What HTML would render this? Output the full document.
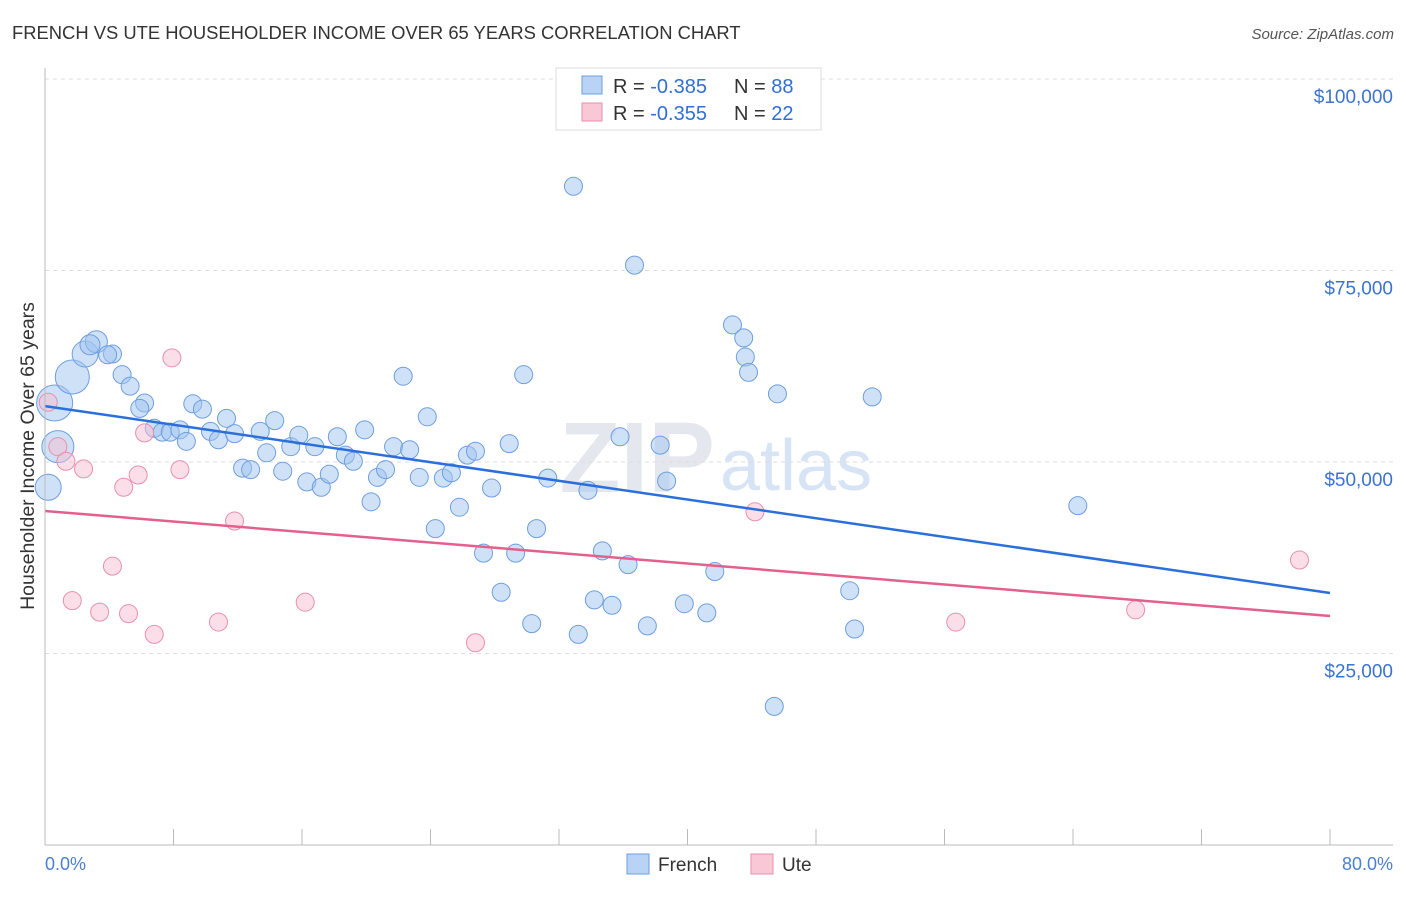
<!DOCTYPE html>
<html><head><meta charset="utf-8"><style>
body{margin:0;background:#fff;font-family:"Liberation Sans",sans-serif;}
svg text{font-family:"Liberation Sans",sans-serif;}
</style></head><body>
<svg id="chart" width="1406" height="892">
<text x="12" y="39" font-size="18.4" fill="#333">FRENCH VS UTE HOUSEHOLDER INCOME OVER 65 YEARS CORRELATION CHART</text>
<text x="1394" y="39" font-size="15" fill="#555" font-style="italic" text-anchor="end">Source: ZipAtlas.com</text>
<text x="715" y="492" font-size="100" fill="#e4e8ee" font-family="Liberation Serif" font-weight="bold" text-anchor="end">ZIP</text>
<text x="720" y="490" font-size="72" fill="#d6e4f5">atlas</text>
<g id="grid"></g><g id="marks"></g><g id="axes"></g>
<text transform="translate(34,456) rotate(-90)" font-size="19.5" fill="#333" text-anchor="middle">Householder Income Over 65 years</text>
<text x="45" y="870" font-size="18" fill="#4a7fd4">0.0%</text>
<text x="1393" y="870" font-size="18" fill="#4a7fd4" text-anchor="end">80.0%</text>
<g>
<rect x="556" y="68" width="265" height="62" fill="#fff" stroke="#ddd"/>
<rect x="582" y="76" width="20" height="18" fill="#b8d3f5" stroke="#6e9fe0"/>
<rect x="582" y="103" width="20" height="18" fill="#f9c8d7" stroke="#e890ad"/>
<text x="613" y="93" font-size="20" fill="#333">R = <tspan fill="#2f6fd6">-0.385</tspan><tspan x="734">N = </tspan><tspan fill="#2f6fd6">88</tspan></text>
<text x="613" y="120" font-size="20" fill="#333">R = <tspan fill="#2f6fd6">-0.355</tspan><tspan x="734">N = </tspan><tspan fill="#2f6fd6">22</tspan></text>
</g>
<g>
<rect x="627" y="854" width="22" height="20" fill="#b8d3f5" stroke="#6e9fe0"/>
<text x="658" y="871" font-size="19" fill="#333">French</text>
<rect x="751" y="854" width="22" height="20" fill="#f9c8d7" stroke="#e890ad"/>
<text x="782" y="871" font-size="19" fill="#333">Ute</text>
</g>
</svg>
<script>
const yTicks=[25000,50000,75000,100000];
const yTickLabels=["$25,000","$50,000","$75,000","$100,000"];
const frenchX=[0.2,0.8,0.6,1.7,2.5,3.2,2.8,4.2,3.9,4.8,5.3,6.2,5.9,6.8,7.3,7.8,8.4,8.8,9.2,9.8,10.3,10.8,11.3,11.8,12.3,12.8,13.4,13.8,14.3,14.8,15.3,15.8,16.3,16.8,17.2,17.7,18.2,18.7,19.2,19.9,20.3,20.7,21.2,21.7,22.3,22.7,23.3,23.8,24.3,24.8,25.3,25.8,26.3,26.8,27.3,27.8,28.4,28.9,29.3,29.8,30.3,30.6,31.3,32.9,33.2,33.8,34.2,34.7,35.3,35.8,36.3,36.7,37.5,38.3,38.7,39.8,41.2,41.7,42.8,43.5,43.6,43.8,45.4,45.6,50.1,50.4,51.5,64.3];
const frenchY=[46.7,52.0,57.7,61.1,64.1,65.7,65.3,64.1,64.0,61.4,59.9,57.7,57.0,54.4,53.9,53.9,54.2,52.7,57.6,56.9,54.0,52.9,55.7,53.7,49.2,49.0,54.0,51.2,55.4,48.8,52.0,53.5,47.4,52.0,46.7,48.4,53.3,50.9,50.1,54.2,44.8,48.0,49.0,52.0,61.2,51.6,48.0,55.9,41.3,47.9,48.6,44.1,50.9,51.4,38.1,46.6,33.0,52.4,38.1,61.4,28.9,41.3,47.9,86.0,27.5,46.3,32.0,38.4,31.3,53.3,36.6,75.7,28.6,52.2,47.5,31.5,30.3,35.7,67.9,66.2,63.7,61.7,18.1,58.9,33.2,28.2,58.5,44.3];
const frenchSize=[13,16,18,17,13,11,10,9,9,9,9,9,9,9,9,9,9,9,9,9,9,9,9,9,9,9,9,9,9,9,9,9,9,9,9,9,9,9,9,9,9,9,9,9,9,9,9,9,9,9,9,9,9,9,9,9,9,9,9,9,9,9,9,9,9,9,9,9,9,9,9,9,9,9,9,9,9,9,9,9,9,9,9,9,9,9,9,9];
const uteX=[0.2,0.8,1.3,1.7,2.4,3.4,4.2,4.9,5.2,5.8,6.2,6.8,7.9,8.4,10.8,11.8,16.2,26.8,44.2,56.7,67.9,78.1];
const uteY=[57.8,52.0,50.1,31.9,49.1,30.4,36.4,46.7,30.2,48.3,53.8,27.5,63.6,49.0,29.1,42.3,31.7,26.4,43.5,29.1,30.7,37.2];
const trendX=[0,80];
const frenchTrend=[57.3,32.9];
const uteTrend=[43.6,29.9];
const NS="http://www.w3.org/2000/svg";
const xs=v=>45+v/80*1285;
const ys=v=>845-v/100000*766;
const ysk=v=>ys(v*1000);
function mk(tag,attrs,parent){const e=document.createElementNS(NS,tag);for(const k in attrs)e.setAttribute(k,attrs[k]);parent.appendChild(e);return e;}
const grid=document.getElementById('grid'),marks=document.getElementById('marks'),axes=document.getElementById('axes');
yTicks.forEach((t,i)=>{
 const l=mk('line',{x1:45,x2:1393,y1:ys(t),y2:ys(t),stroke:'#ddd','stroke-dasharray':'4,4'},grid);
 
 
 const tx=mk('text',{x:1393,y:ys(t)+24,'font-size':19,fill:'#3b73cf','text-anchor':'end'},axes);
 tx.textContent=yTickLabels[i];
 
 
});
const ax=mk('line',{x1:45,x2:45,y1:68,y2:845,stroke:'#bbb'},axes);


const bx=mk('line',{x1:45,x2:1393,y1:845,y2:845,stroke:'#bbb'},axes);


for(let i=0;i<=10;i++){const t=mk('line',{x1:xs(i*8),x2:xs(i*8),y1:829,y2:845,stroke:'#bbb'},axes);
 
 }
frenchX.forEach((x,i)=>{const c=mk('circle',{cx:xs(x),cy:ysk(frenchY[i]),r:frenchSize[i],fill:'rgba(160,196,240,0.5)',stroke:'#6e9fe0','stroke-width':1},marks);
 
 });
uteX.forEach((x,i)=>{const c=mk('circle',{cx:xs(x),cy:ysk(uteY[i]),r:9,fill:'rgba(248,190,208,0.5)',stroke:'#e890ad','stroke-width':1},marks);
 
 });
const fl=mk('line',{x1:xs(trendX[0]),x2:xs(trendX[1]),y1:ysk(frenchTrend[0]),y2:ysk(frenchTrend[1]),stroke:'#2a6fdb','stroke-width':2.5},marks);


const ul=mk('line',{x1:xs(trendX[0]),x2:xs(trendX[1]),y1:ysk(uteTrend[0]),y2:ysk(uteTrend[1]),stroke:'#e4608c','stroke-width':2.5},marks);


</script>
</body></html>
